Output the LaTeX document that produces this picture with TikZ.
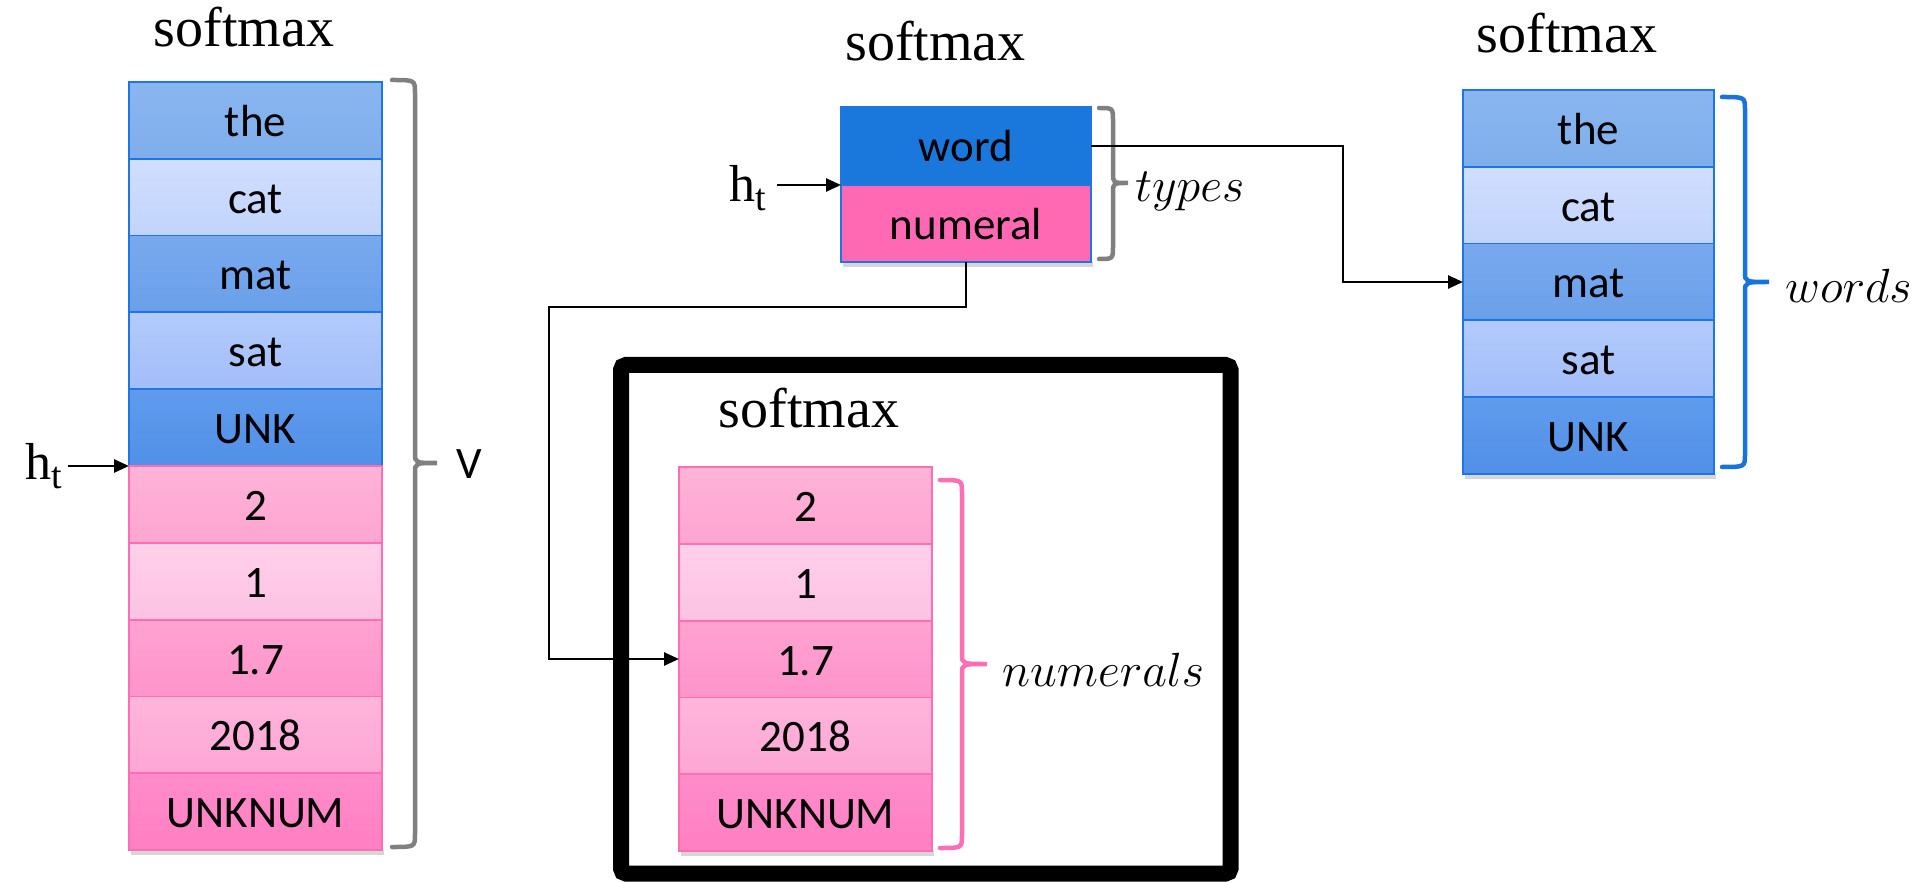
\RequirePackage{fix-cm}
\documentclass[tikz,border=0pt]{standalone}
\usepackage{fontspec}
\newfontfamily\cellfont{Carlito}
\newfontfamily\titlefont{Liberation Serif}
\usetikzlibrary{arrows.meta}

% cell outlines and brace colours
\definecolor{cblue}{HTML}{1E76E4}
\definecolor{cpink}{HTML}{FF6EB4}
\definecolor{bracegray}{HTML}{808080}
\definecolor{braceblue}{HTML}{1A73DC}
\definecolor{wordblue}{HTML}{1A78DC}
\definecolor{numpink}{HTML}{FF69B4}
% word cells (top / bottom of the gradient)
\definecolor{wAt}{HTML}{8AB6EF}\definecolor{wAb}{HTML}{7EAEEC}
\definecolor{wBt}{HTML}{D0DEFE}\definecolor{wBb}{HTML}{C2D4FC}
\definecolor{wCt}{HTML}{78A9EE}\definecolor{wCb}{HTML}{6AA0EA}
\definecolor{wDt}{HTML}{B3CBFC}\definecolor{wDb}{HTML}{A2BDF9}
\definecolor{wEt}{HTML}{609BEC}\definecolor{wEb}{HTML}{5190E8}
% numeral cells
\definecolor{pAt}{HTML}{FFB3D8}\definecolor{pAb}{HTML}{FDA5D2}
\definecolor{pBt}{HTML}{FFD0EA}\definecolor{pBb}{HTML}{FDC2E3}
\definecolor{pCt}{HTML}{FFA2D2}\definecolor{pCb}{HTML}{FE94CA}
\definecolor{pDt}{HTML}{FFB5DC}\definecolor{pDb}{HTML}{FDA6D5}
\definecolor{pEt}{HTML}{FF8CCA}\definecolor{pEb}{HTML}{FF7FC3}

\tikzset{
  cell/.style={line width=1.8pt, minimum width=253pt, minimum height=76.8pt,
    inner sep=0pt, outer sep=0pt, text height=32pt, text depth=0pt,
    font=\cellfont\fontsize{45}{50}\selectfont},
  bcell/.style 2 args={cell, draw=cblue, top color=#1, bottom color=#2},
  pcell/.style 2 args={cell, draw=cpink, top color=#1, bottom color=#2},
  title/.style={inner sep=0pt, font=\titlefont\fontsize{56}{60}\selectfont},
  hlab/.style={inner sep=0pt, font=\titlefont\fontsize{52}{56}\selectfont},
  mlab/.style={inner sep=0pt, font=\fontsize{48}{52}\selectfont},
  vlab/.style={inner sep=0pt, font=\cellfont\fontsize{45}{50}\selectfont},
  arr/.style={-{Triangle[length=15pt,width=13pt]}, line width=2.6pt},
  brk/.style={line width=4.5pt, line cap=round},
  shade/.style={fill=black, opacity=0.16},
}

% right-hand curly brace: colour, arm end x, spine x, tip x, top y, tip y, bottom y
\newcommand{\sidebrace}[7]{%
  \draw[brk, #1] (#2,#5) .. controls (#3,#5) .. (#3,#5+13)
    -- (#3,#6-10) .. controls (#3,#6) .. (#4,#6)
    .. controls (#3,#6) .. (#3,#6+10)
    -- (#3,#7-13) .. controls (#3,#7) .. (#2,#7);}

\newcommand{\hsub}{h\raisebox{-9pt}{\fontsize{38}{40}\selectfont t}}

\begin{document}
\begin{tikzpicture}[x=1pt, y=-1pt]
\useasboundingbox (0,0) rectangle (1920,882);

% ---------- full vocabulary softmax ----------
\node[title, anchor=base] (s1) at (244,47) {softmax};
\fill[shade] (131,850) rectangle (384,855);
\node[bcell={wAt}{wAb}] (a1) at (255.5,120.4) {the};
\node[bcell={wBt}{wBb}] (a2) at (255.5,197.2) {cat};
\node[bcell={wCt}{wCb}] (a3) at (255.5,274.0) {mat};
\node[bcell={wDt}{wDb}] (a4) at (255.5,350.8) {sat};
\node[bcell={wEt}{wEb}] (a5) at (255.5,427.6) {UNK};
\node[pcell={pAt}{pAb}] (a6) at (255.5,504.4) {2};
\node[pcell={pBt}{pBb}] (a7) at (255.5,581.2) {1};
\node[pcell={pCt}{pCb}] (a8) at (255.5,658.0) {1.7};
\node[pcell={pDt}{pDb}] (a9) at (255.5,734.8) {2018};
\node[pcell={pEt}{pEb}] (a10) at (255.5,811.6) {UNKNUM};

\node[hlab, anchor=base west] (h1) at (25,479) {\hsub};
\coordinate (t1) at (68,0);
\draw[arr] (t1 |- a5.south west) -- (a5.south west);

\sidebrace{bracegray}{392}{415}{437}{80}{463}{847}
\node[vlab, anchor=base west] (v) at (456,478) {V};

% ---------- type softmax ----------
\node[title, anchor=base] (s2) at (935.5,61) {softmax};
\fill[shade] (843,262) rectangle (1093,267);
\node[cell, draw=cblue, fill=wordblue, minimum width=250pt, minimum height=78pt]
  (word) at (966,146) {word};
\node[cell, draw=cblue, fill=numpink, minimum width=250pt, minimum height=77pt]
  (numeral) at (966,223.5) {numeral};

\node[hlab, anchor=base west] (h2) at (729,202) {\hsub};
\coordinate (t2) at (777,0);
\draw[arr] (t2 |- word.south west) -- (word.south west);

\sidebrace{bracegray}{1099}{1113}{1128}{108}{183}{259}
\node[mlab, anchor=base west] (types) at (1135,202) {$types$};

% ---------- numeral softmax in its frame ----------
\draw[line width=16pt, rounded corners=5pt] (621,365) rectangle (1230.5,873.5);
\node[title, anchor=base] (s3) at (809,428) {softmax};
\fill[shade] (681,851) rectangle (934,856);
\node[pcell={pAt}{pAb}] (n1) at (805.5,505.4) {2};
\node[pcell={pBt}{pBb}] (n2) at (805.5,582.2) {1};
\node[pcell={pCt}{pCb}] (n3) at (805.5,659.0) {1.7};
\node[pcell={pDt}{pDb}] (n4) at (805.5,735.8) {2018};
\node[pcell={pEt}{pEb}] (n5) at (805.5,812.6) {UNKNUM};

\sidebrace{cpink}{940}{962}{987}{480}{664}{848}
\node[mlab, anchor=base west] (nums) at (1002,686) {$numerals$};

% ---------- word softmax ----------
\node[title, anchor=base] (s4) at (1567,53) {softmax};
\fill[shade] (1465,474) rectangle (1716,479);
\node[bcell={wAt}{wAb}, minimum width=251pt] (r1) at (1588.5,128.4) {the};
\node[bcell={wBt}{wBb}, minimum width=251pt] (r2) at (1588.5,205.2) {cat};
\node[bcell={wCt}{wCb}, minimum width=251pt] (r3) at (1588.5,282.0) {mat};
\node[bcell={wDt}{wDb}, minimum width=251pt] (r4) at (1588.5,358.8) {sat};
\node[bcell={wEt}{wEb}, minimum width=251pt] (r5) at (1588.5,435.6) {UNK};

\sidebrace{braceblue}{1722}{1745}{1769}{97}{282}{467}
\node[mlab, anchor=base west] (words) at (1785,303) {$words$};

% ---------- routing from the type softmax ----------
\coordinate (j1) at (1343,0);
\draw[arr] (word.east) -| (j1 |- r3.west) -- (r3.west);
\coordinate (j2) at (549,307);
\draw[arr] (numeral.south) |- (j2) |- (n3.west);
\end{tikzpicture}
\end{document}
